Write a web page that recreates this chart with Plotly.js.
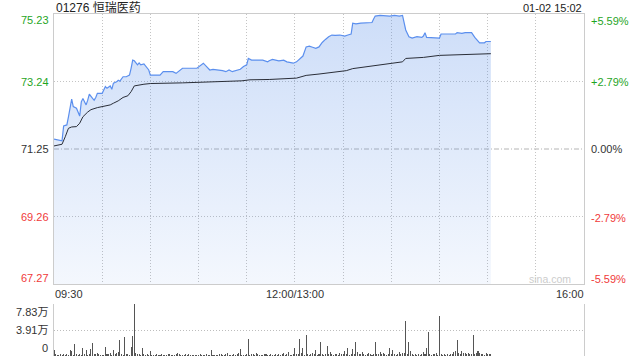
<!DOCTYPE html>
<html>
<head>
<meta charset="utf-8">
<script src="https://cdn.plot.ly/plotly-3.0.1.min.js"></script>
<style>html,body{margin:0;padding:0;background:#fff;}#chart{width:640px;height:360px;}</style>
</head>
<body>
<div id="chart"></div>
<script>
// ---- data ----
const stockTitle = "01276 恒瑞医药";
const stampText = "01-02 15:02";
const prevClose = 71.25;
const priceTicks = [75.23, 73.24, 71.25, 69.26, 67.27];
const priceTickText = ["75.23", "73.24", "71.25", "69.26", "67.27"];
const pctTickText = ["+5.59%", "+2.79%", "0.00%", "-2.79%", "-5.59%"];
const volTicks = [7.83, 3.915, 0];
const volTickText = ["7.83万", "3.91万", "0"];
const timeTicks = [0, 150, 330];
const timeTickText = ["09:30", "12:00/13:00", "16:00"];

// minutes since 09:30 (trading minutes, lunch removed)
const priceTime = [0,5,6,8,9,11,12,14,16,17,18,20,21,22,24,25,26,27,30,32,
  33,35,36,37,39,40,41,43,45,47,48,49,50,52,53,54,56,58,59,60,
  66,68,74,76,80,89,91,93,95,97,99,103,105,107,109,111,114,116,118,120,
  121,123,130,133,134,136,140,143,145,148,149,151,153,155,157,159,161,163,165,167,
  169,171,173,175,178,181,183,185,186,188,191,195,198,199,200,203,209,212,215,217,
  218,219,221,223,226,229,230,231,232,236,240,241,250,251,254,256,260,262,265,268,
  269,272];
const priceValue = [71.54,71.49,71.93,71.96,72.20,72.72,72.50,72.45,72.22,72.64,72.74,72.55,72.69,72.87,72.74,72.69,72.77,72.89,72.89,73.09,
  73.04,73.11,73.01,73.19,73.23,73.28,73.25,73.38,73.38,73.43,73.63,73.87,73.85,73.73,73.79,73.73,73.76,73.63,73.58,73.43,
  73.43,73.53,73.53,73.48,73.63,73.63,73.70,73.78,73.68,73.58,73.60,73.58,73.56,73.53,73.58,73.53,73.58,73.60,73.68,73.73,
  73.92,73.87,73.87,73.82,73.85,73.89,73.85,73.87,73.82,73.79,73.78,73.82,73.92,73.99,74.26,74.28,74.25,74.22,74.26,74.39,
  74.48,74.56,74.61,74.60,74.61,74.58,74.61,74.64,74.96,74.94,74.96,74.96,74.98,75.08,75.17,75.19,75.17,75.19,75.17,75.19,
  75.00,74.76,74.56,74.52,74.56,74.54,74.58,74.68,74.54,74.52,74.52,74.64,74.64,74.68,74.66,74.68,74.68,74.54,74.38,74.38,
  74.42,74.42];

const avgTime = [0,5,7,9,11,14,16,18,21,23,27,35,37,40,43,46,48,50,56,60,
  80,100,117,122,134,151,153,157,165,182,186,199,211,217,219,230,240,259,272];
const avgValue = [71.34,71.39,71.61,71.86,71.90,71.91,72.01,72.20,72.34,72.41,72.47,72.55,72.60,72.67,72.77,72.82,72.94,73.11,73.16,73.18,
  73.20,73.23,73.26,73.29,73.30,73.34,73.37,73.42,73.46,73.56,73.62,73.70,73.79,73.82,73.92,73.95,74.01,74.05,74.06];

// volume per minute, in 万 shares (minutes 0..272)
const volume = [
  0.93,0.25,0.2,0.15,0.3,0.2,0.25,0.18,0.3,0.22,
  0.93,0.77,0.2,1.8,0.25,0.2,0.3,0.22,1.18,0.3,
  0.88,0.2,0.25,0.98,1.9,0.35,0.3,0.4,0.25,0.2,
  0.15,0.2,1.39,0.3,0.25,0.4,0.2,0.88,0.3,0.5,
  0.6,2.47,0.3,0.2,2.83,0.3,0.35,0.2,1.39,2.94,
  7.83,0.5,0.3,0.35,0.2,1.18,0.25,0.2,0.3,0.15,
  0.77,0.2,0.15,0.2,0.3,0.15,0.2,0.25,0.18,0.15,
  0.2,0.3,0.25,0.15,0.2,0.22,0.3,0.4,0.25,0.2,
  0.15,0.2,0.25,0.18,0.3,0.2,0.15,0.2,0.22,0.15,
  0.2,0.25,0.15,0.18,0.2,0.3,0.2,0.15,0.88,0.2,
  0.15,0.2,0.18,0.25,0.3,0.2,0.15,0.35,0.46,0.2,
  0.15,0.2,0.25,0.2,0.3,0.4,1.03,0.2,0.15,0.2,
  0.3,2.58,0.2,0.25,0.3,0.2,0.5,0.25,0.2,0.15,
  0.2,0.25,0.3,0.2,0.15,0.35,0.2,0.18,0.25,0.2,
  0.3,0.2,0.25,0.45,0.2,0.3,0.6,0.2,0.15,0.3,
  1.18,0.25,0.3,2.58,0.4,1.18,0.2,3.09,0.3,0.2,
  0.25,0.5,0.3,0.88,0.2,0.3,2.16,0.25,0.2,0.3,
  1.55,0.3,0.62,0.25,0.2,0.3,0.25,0.2,0.4,0.3,
  0.25,0.77,0.3,1.13,0.2,0.3,1.03,0.25,2.16,0.67,
  0.3,0.25,0.67,0.3,0.2,0.25,0.4,0.3,0.2,0.25,
  2.16,0.3,0.25,0.62,0.3,0.5,0.25,0.2,0.3,1.18,
  0.3,0.93,0.25,0.2,0.3,0.62,0.3,0.5,0.4,5.25,
  0.3,2.16,0.77,0.25,0.2,0.3,0.2,0.25,0.2,0.3,
  0.62,0.3,1.18,3.55,0.25,0.2,0.3,0.25,0.4,0.2,
  6.08,0.3,0.2,0.25,0.2,0.3,0.2,0.25,0.3,0.62,
  0.77,2.47,0.5,0.3,0.77,0.4,0.45,0.3,0.45,0.3,
  0.25,3.09,0.3,0.4,0.77,0.5,0.3,0.25,0.2,0.45,
  0.35,0.3,0.25
];
const volumeTime = volume.map((_, i) => i);

// ---- styles ----
const FONT = "Liberation Sans, Arial, Noto Sans CJK SC, sans-serif";
const GREEN = "#1fa51f", RED = "#f03a3a", DARK = "#333333";
const labelColors = [GREEN, GREEN, DARK, RED, RED];
const leftShift = [-5.5, 0, 0, 0, 6];
const rightShift = [-6.5, -0.5, 0, -1, 5];
const GRIDDASH = "1px,2px";

const traces = [
  {
    x: priceTime, y: priceValue, type: "scatter", mode: "lines",
    line: {color: "#5b8fee", width: 1.2},
    fill: "tozeroy",
    fillgradient: {type: "vertical", start: priceTicks[4], stop: priceTicks[0],
      colorscale: [[0, "rgba(70,130,230,0.06)"], [1, "rgba(70,130,230,0.27)"]]},
    xaxis: "x", yaxis: "y", hoverinfo: "skip"
  },
  {
    x: avgTime, y: avgValue, type: "scatter", mode: "lines",
    line: {color: "#2a2e38", width: 1},
    xaxis: "x", yaxis: "y", hoverinfo: "skip"
  },
  {
    x: volumeTime, y: volume, type: "bar", width: 0.65,
    marker: {color: "#555555", line: {width: 0}},
    xaxis: "x2", yaxis: "y2", hoverinfo: "skip"
  }
];

const annotations = [];
priceTicks.forEach((v, i) => {
  annotations.push({xref: "paper", yref: "y", x: 0, y: v, xanchor: "right", yanchor: "middle",
    xshift: -3, yshift: leftShift[i], showarrow: false, text: priceTickText[i],
    font: {family: FONT, size: 11, color: labelColors[i]}});
  annotations.push({xref: "paper", yref: "y", x: 1, y: v, xanchor: "left", yanchor: "middle",
    xshift: 5, yshift: rightShift[i], showarrow: false, text: pctTickText[i],
    font: {family: FONT, size: 11, color: labelColors[i]}});
});
const volShift = [-8, 0, 7.5];
volTicks.forEach((v, i) => {
  annotations.push({xref: "paper", yref: "y2", x: 0, y: v, xanchor: "right", yanchor: "middle",
    xshift: -4, yshift: volShift[i], showarrow: false, text: volTickText[i],
    font: {family: FONT, size: 11, color: DARK}});
});
const timeAnchor = ["left", "center", "right"];
timeTicks.forEach((t, i) => {
  annotations.push({xref: "x", yref: "paper", x: t, y: 0.1813, xanchor: timeAnchor[i], yanchor: "middle",
    xshift: i === 0 ? -1 : (i === 2 ? 2 : 0), showarrow: false, text: timeTickText[i],
    font: {family: FONT, size: 11, color: DARK}});
});
annotations.push({xref: "paper", yref: "paper", x: 0, y: 1.019, xanchor: "left", yanchor: "middle",
  xshift: 0, showarrow: false, text: stockTitle, font: {family: FONT, size: 12, color: "#222"}});
annotations.push({xref: "paper", yref: "paper", x: 1, y: 1.019, xanchor: "right", yanchor: "middle",
  showarrow: false, text: stampText, font: {family: FONT, size: 11, color: "#222"}});
annotations.push({xref: "paper", yref: "y", x: 1, y: priceTicks[4], xanchor: "right", yanchor: "middle",
  xshift: -11, yshift: 5, showarrow: false, text: "sina.com", font: {family: FONT, size: 10.5, color: "#cccccc"}});

const layout = {
  width: 640, height: 360,
  margin: {l: 54, r: 56, t: 14, b: 4, pad: 0},
  paper_bgcolor: "#ffffff", plot_bgcolor: "#ffffff",
  showlegend: false,
  bargap: 0,
  xaxis: {domain: [0, 1], range: [0, 330], tick0: 0, dtick: 30, showgrid: true, griddash: GRIDDASH,
    gridcolor: "#c4c4c4", gridwidth: 1, showticklabels: false, ticks: "", zeroline: false,
    showline: true, mirror: true, linecolor: "#cccccc", linewidth: 1, anchor: "y", fixedrange: true},
  yaxis: {domain: [0.2105, 1], range: [priceTicks[4], priceTicks[0]], tickvals: [priceTicks[1], priceTicks[3]],
    showgrid: true, griddash: GRIDDASH, gridcolor: "#c4c4c4", gridwidth: 1, showticklabels: false, ticks: "",
    zeroline: false, showline: true, mirror: true, linecolor: "#cccccc", linewidth: 1, anchor: "x", fixedrange: true},
  xaxis2: {domain: [0, 1], range: [0, 330], matches: "x", showgrid: false, showticklabels: false, ticks: "",
    zeroline: false, showline: false, anchor: "y2", fixedrange: true},
  yaxis2: {domain: [0, 0.152], range: [0, volTicks[0]], tickvals: [volTicks[1], volTicks[0]],
    showgrid: true, griddash: GRIDDASH, gridcolor: "#bdbdbd", gridwidth: 1, showticklabels: false, ticks: "",
    zeroline: false, showline: true, mirror: true, linecolor: "#cccccc", linewidth: 1, anchor: "x2", fixedrange: true},
  shapes: [
    {type: "line", xref: "paper", yref: "y", x0: 0, x1: 1, y0: prevClose, y1: prevClose,
      line: {color: "#b4b4b4", width: 1, dash: "5px,2px,1px,2px"}, layer: "below"}
  ],
  annotations: annotations
};

Plotly.newPlot("chart", traces, layout, {staticPlot: true, displayModeBar: false});
</script>
</body>
</html>
